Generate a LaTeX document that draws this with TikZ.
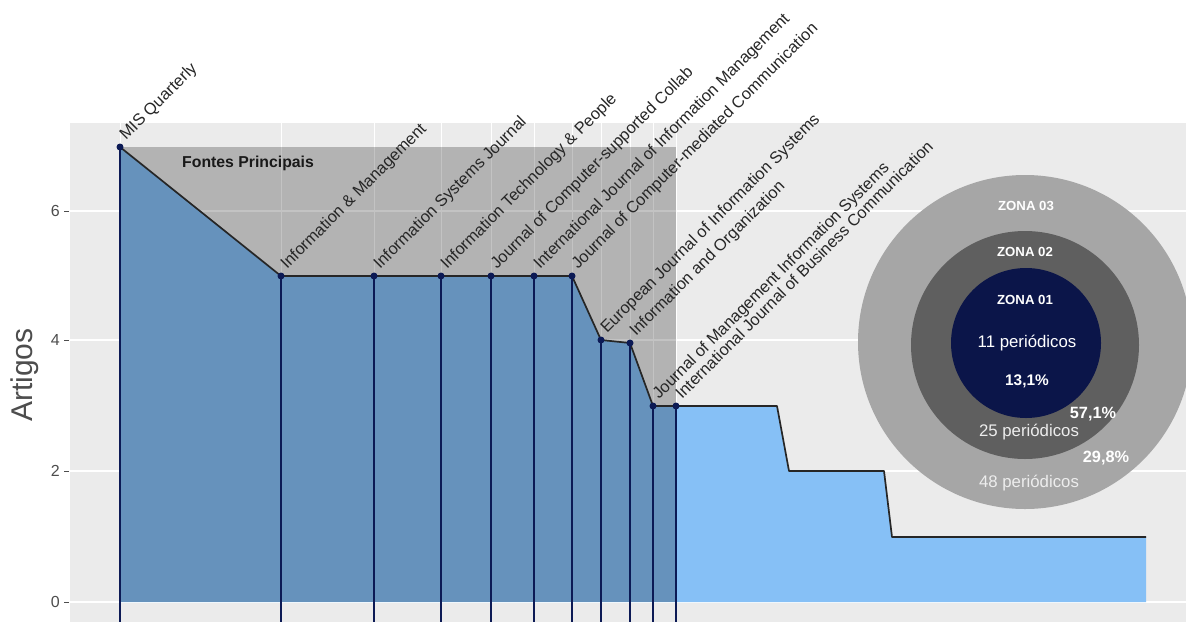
\documentclass[tikz,border=0pt]{standalone}
\usepackage{fontspec}
\setmainfont{Liberation Sans}
\definecolor{panelbg}{HTML}{EBEBEB}
\definecolor{lightblue}{HTML}{86C0F6}
\definecolor{navy}{HTML}{0C1A55}
\definecolor{outerc}{HTML}{A6A6A6}
\definecolor{middlec}{HTML}{5F5F5F}
\definecolor{innerc}{HTML}{0B1549}
\definecolor{axisgray}{HTML}{4D4D4D}
\begin{document}
\begin{tikzpicture}[x=1pt,y=-1pt,
  lbl/.style={anchor=base west, rotate=45, inner sep=0pt, font=\fontsize{16.4}{17}\selectfont, text=black!85},
  stemline/.style={draw=navy, line width=1.8pt},
  dotnode/.style={circle, fill=navy, inner sep=0pt, minimum size=7pt},
  gridmajor/.style={draw=white, line width=1.3pt},
  gridv/.style={draw=white, line width=0.8pt},
  ticklbl/.style={anchor=east, text=axisgray, font=\fontsize{16}{18}\selectfont, inner sep=0pt},
  tickmark/.style={draw=axisgray, line width=0.8pt},
  zonelbl/.style={text=white, font=\bfseries\fontsize{13.2}{14}\selectfont, inner sep=0pt},
  perlbl/.style={text=white, font=\fontsize{16.8}{18}\selectfont, inner sep=0pt},
  pctlbl/.style={text=white, font=\bfseries\fontsize{16.3}{18}\selectfont, inner sep=0pt},
  dataline/.style={draw=black!85, line width=1.7pt, line join=round}]
\useasboundingbox (0,0) rectangle (1186,622);
% panel
\fill[panelbg] (70,123) rectangle (1186,622);
\foreach \yy in {211,340,471,602} \draw[gridmajor] (70,\yy) -- (1186,\yy);
\foreach \xx in {120,281,374,441,491,534,572,601,630,653,676} \draw[gridv] (\xx,123) -- (\xx,622);
% ticks
\foreach \yy/\tt in {211/6,340/4,471/2,602/0} {
  \draw[tickmark] (64,\yy) -- (69,\yy);
  \node[ticklbl] (tick\tt) at (60,\yy) {\tt};
}
\node[rotate=90, text=axisgray, font=\fontsize{30}{32}\selectfont] (ylab) at (25,375) {Artigos};
% data points
\coordinate (p1) at (120,147);
\coordinate (p2) at (281,276);
\coordinate (p3) at (374,276);
\coordinate (p4) at (441,276);
\coordinate (p5) at (491,276);
\coordinate (p6) at (534,276);
\coordinate (p7) at (572,276);
\coordinate (p8) at (601,340);
\coordinate (p9) at (630,343);
\coordinate (p10) at (653,406);
\coordinate (p11) at (676,406);
\coordinate (q1) at (777,406);
\coordinate (q2) at (789,471);
\coordinate (q3) at (884,471);
\coordinate (q4) at (892,537);
\coordinate (q5) at (1146,537);
% area fill
\fill[lightblue] (120,602) -- (p1) -- (p2) -- (p7) -- (p8) -- (p9) -- (p10) -- (p11) -- (q1) -- (q2) -- (q3) -- (q4) -- (q5) -- (1146,602) -- cycle;
% Fontes Principais box
\fill[black, fill opacity=0.235] (120,147) rectangle (676,602);
\node[anchor=west, font=\bfseries\fontsize{15.8}{17}\selectfont, text=black!90, inner sep=0pt] (fp) at (182,163) {Fontes Principais};
% data line
\draw[dataline] (p1) -- (p2) -- (p7) -- (p8) -- (p9) -- (p10) -- (p11) -- (q1) -- (q2) -- (q3) -- (q4) -- (q5);
% stems and dots
\foreach \i in {1,...,11} {
  \draw[stemline] (p\i) -- (p\i |- 0,622);
  \node[dotnode] (d\i) at (p\i) {};
}
% labels
\node[lbl] (l1) at ([shift={(6,-6)}]p1) {MIS Quarterly};
\node[lbl] (l2) at ([shift={(6,-6)}]p2) {Information \& Management};
\node[lbl] (l3) at ([shift={(6,-6)}]p3) {Information Systems Journal};
\node[lbl] (l4) at ([shift={(6,-6)}]p4) {Information Technology \& People};
\node[lbl] (l5) at ([shift={(6,-6)}]p5) {Journal of Computer-supported Collab};
\node[lbl] (l6) at ([shift={(6,-6)}]p6) {International Journal of Information Management};
\node[lbl] (l7) at ([shift={(6,-6)}]p7) {Journal of Computer-mediated Communication};
\node[lbl] (l8) at ([shift={(6,-6)}]p8) {European Journal of Information Systems};
\node[lbl] (l9) at ([shift={(6,-6)}]p9) {Information and Organization};
\node[lbl] (l10) at ([shift={(6,-6)}]p10) {Journal of Management Information Systems};
\node[lbl] (l11) at ([shift={(6,-6)}]p11) {International Journal of Business Communication};
% zones
\fill[outerc] (1025,342) circle[radius=167];
\fill[middlec] (1025,345) circle[radius=114];
\fill[innerc] (1026,343) circle[radius=75];
\node[zonelbl] (z3) at (1026,206) {ZONA 03};
\node[zonelbl] (z2) at (1025,252) {ZONA 02};
\node[zonelbl] (z1) at (1025,300) {ZONA 01};
\node[perlbl] (n1) at (1027,343) {11 periódicos};
\node[pctlbl, font=\bfseries\fontsize{15.4}{17}\selectfont] (c1) at (1027,381) {13,1\%};
\node[pctlbl] (c2) at (1093,414) {57,1\%};
\node[perlbl, text=white!93!black] (n2) at (1029,432) {25 periódicos};
\node[pctlbl] (c3) at (1106,458) {29,8\%};
\node[perlbl, text=white!93!black] (n3) at (1029,483) {48 periódicos};
\end{tikzpicture}
\end{document}
